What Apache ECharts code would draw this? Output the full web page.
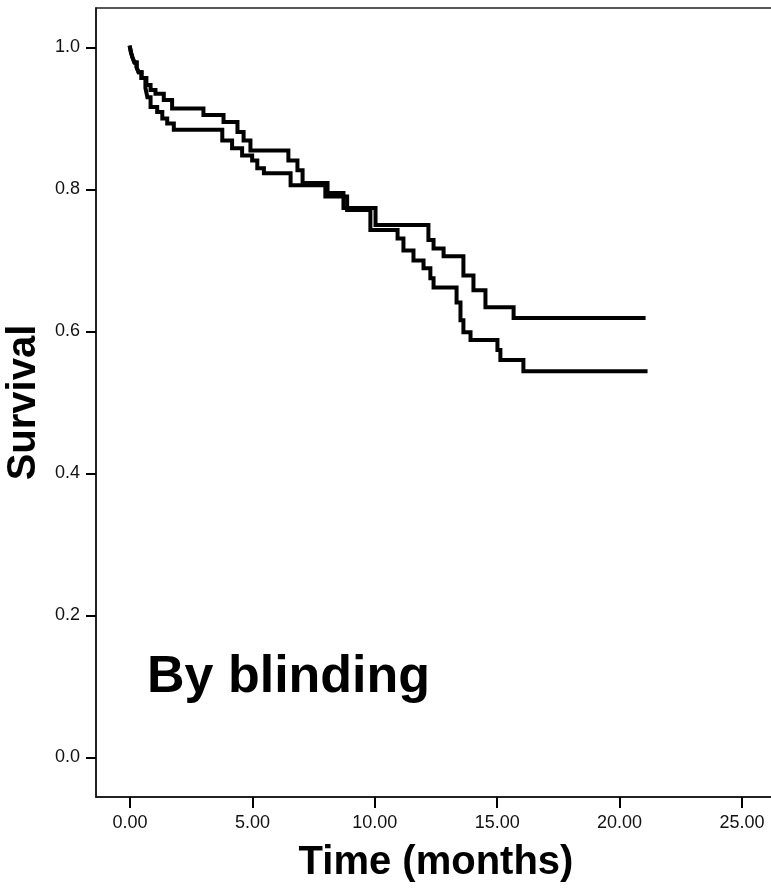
<!DOCTYPE html>
<html>
<head>
<meta charset="utf-8">
<script src="https://cdn.jsdelivr.net/npm/echarts@6/dist/echarts.min.js"></script>
<style>html,body{margin:0;padding:0;background:#fff}#c{width:771px;height:893px}</style>
</head>
<body>
<div id="c"></div>
<script>
// Kaplan-Meier step curves (time in months, survival proportion)
var timesA = [0, 0.04, 0.10, 0.18, 0.27, 0.35, 0.47, 0.67, 0.84, 1.04, 1.38, 1.72, 3.00, 3.82, 4.39, 4.64, 4.92, 6.47, 6.84, 7.05, 8.07, 8.72, 10.03, 12.19, 12.40, 12.81, 13.62, 14.03, 14.52, 15.67, 20.98];
var survA  = [1.000, 0.993, 0.986, 0.979, 0.972, 0.965, 0.957, 0.947, 0.940, 0.935, 0.926, 0.914, 0.905, 0.895, 0.881, 0.869, 0.855, 0.841, 0.827, 0.809, 0.795, 0.774, 0.750, 0.729, 0.717, 0.706, 0.679, 0.658, 0.634, 0.619, 0.619];
var timesB = [0, 0.04, 0.10, 0.18, 0.27, 0.35, 0.47, 0.63, 0.71, 0.84, 1.11, 1.32, 1.52, 1.79, 3.77, 4.17, 4.58, 4.99, 5.20, 5.47, 6.56, 7.98, 8.87, 9.82, 10.93, 11.17, 11.58, 11.99, 12.27, 12.40, 13.34, 13.50, 13.62, 13.91, 15.01, 15.13, 16.07, 21.06];
var survB  = [1.000, 0.993, 0.986, 0.979, 0.972, 0.965, 0.957, 0.943, 0.930, 0.916, 0.909, 0.900, 0.893, 0.884, 0.869, 0.858, 0.848, 0.841, 0.830, 0.823, 0.806, 0.790, 0.771, 0.743, 0.731, 0.714, 0.700, 0.689, 0.675, 0.662, 0.641, 0.616, 0.599, 0.588, 0.574, 0.560, 0.544, 0.544];
var xTicks = [0, 5, 10, 15, 20, 25];
var yTicks = [0.0, 0.2, 0.4, 0.6, 0.8, 1.0];
var xTitle = 'Time (months)';
var yTitle = 'Survival';
var panelLabel = 'By blinding';

function pairs(t, s) { return t.map(function (v, i) { return [v, s[i]]; }); }

var chart = echarts.init(document.getElementById('c'), null, { renderer: 'canvas' });
var font = 'Liberation Sans, Arial, sans-serif';
chart.setOption({
  animation: false,
  backgroundColor: '#ffffff',
  grid: { left: 96, top: 8, right: -5, bottom: 96, outerBoundsMode: 'none', containLabel: false,
    show: true, borderColor: '#222', borderWidth: 1.5, backgroundColor: 'transparent' },
  xAxis: {
    type: 'value', min: -1.389, max: 26.389,
    axisLine: { show: true, onZero: false, lineStyle: { color: '#111', width: 1.5 } },
    axisTick: { show: true, length: 11, lineStyle: { color: '#000', width: 2 }, customValues: xTicks },
    axisLabel: { color: '#111', fontFamily: font, fontSize: 18, margin: 17, customValues: xTicks,
      formatter: function (v) { return v.toFixed(2); } },
    splitLine: { show: false },
    name: xTitle, nameLocation: 'middle', nameGap: 46,
    nameTextStyle: { color: '#000', fontFamily: font, fontSize: 40, fontWeight: 'bold' }
  },
  yAxis: {
    type: 'value', min: -0.0556, max: 1.0556,
    axisLine: { show: true, onZero: false, lineStyle: { color: '#111', width: 1.5 } },
    axisTick: { show: true, length: 10, lineStyle: { color: '#000', width: 2 }, customValues: yTicks },
    axisLabel: { color: '#111', fontFamily: font, fontSize: 18, margin: 16, customValues: yTicks,
      formatter: function (v) { return v.toFixed(1); } },
    splitLine: { show: false },
    name: yTitle, nameLocation: 'middle', nameGap: 50,
    nameTextStyle: { color: '#000', fontFamily: font, fontSize: 40, fontWeight: 'bold' }
  },
  graphic: [{
    type: 'text', left: 147, top: 652,
    style: { text: panelLabel, fill: '#000', font: 'bold 52px ' + font }
  }],
  series: [
    { type: 'line', step: 'end', showSymbol: false, symbol: 'none', data: pairs(timesA, survA),
      lineStyle: { color: '#000', width: 4, join: 'miter', cap: 'square' } },
    { type: 'line', step: 'end', showSymbol: false, symbol: 'none', data: pairs(timesB, survB),
      lineStyle: { color: '#000', width: 4, join: 'miter', cap: 'square' } }
  ]
});
</script>
</body>
</html>
